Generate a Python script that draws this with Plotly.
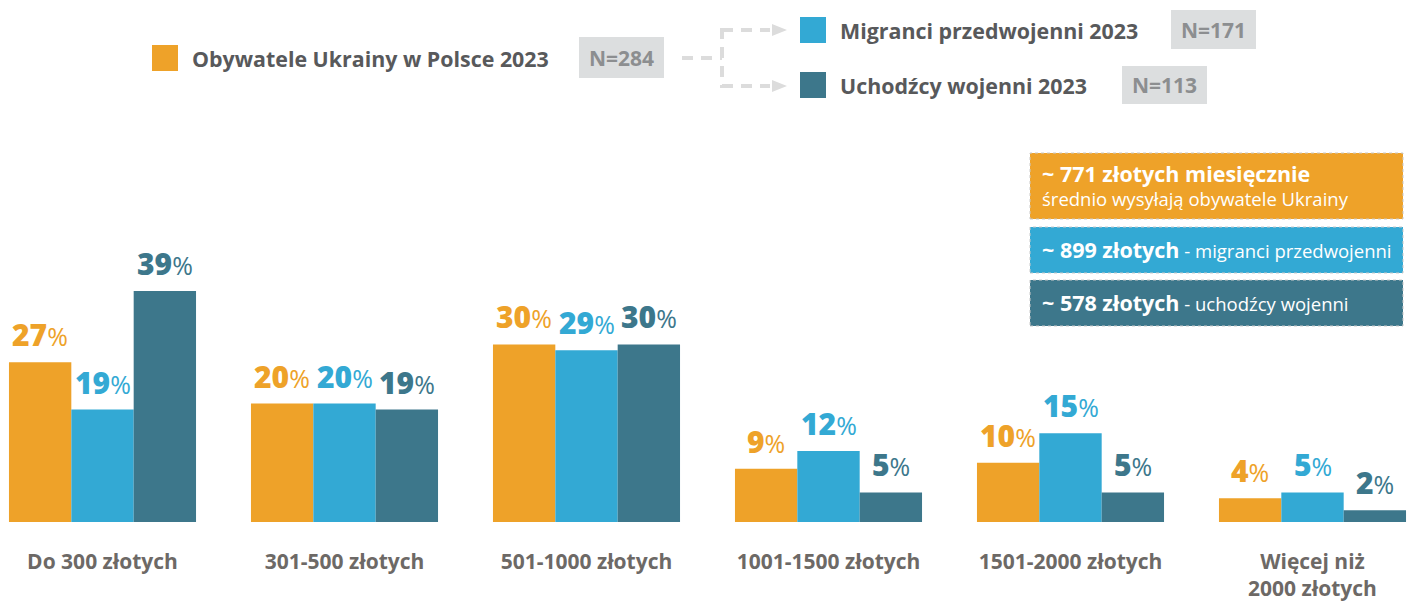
import plotly.graph_objects as go

# --- data -------------------------------------------------------------
categories = ["Do 300 złotych", "301-500 złotych", "501-1000 złotych",
              "1001-1500 złotych", "1501-2000 złotych", "Więcej niż<br>2000 złotych"]
series_names = ["Obywatele Ukrainy w Polsce 2023",
                "Migranci przedwojenni 2023",
                "Uchodźcy wojenni 2023"]
sample_sizes = ["N=284", "N=171", "N=113"]
obywatele = [27, 20, 30, 9, 10, 4]
migranci = [19, 20, 29, 12, 15, 5]
uchodzcy = [39, 19, 30, 5, 5, 2]
avg_amounts = ["~ 771 złotych", "~ 899 złotych", "~ 578 złotych"]

# --- style ------------------------------------------------------------
W, H = 1413, 601
BASE = 522                      # pixel row of the bar baseline
PX_PER_PCT = 5.92
COLORS = ["#EEA229", "#33A9D4", "#3D778B"]
TEXT_GRAY = "#58595B"
TICK_GRAY = "#6D6966"
NBOX_FILL = "#DCDEDF"
NBOX_TEXT = "#8C8E90"
DASH_GRAY = "#DCDCDC"
FONT = "Open Sans"
BARGAP = 0.227
STEP = 242                      # pixels per category

x_lo = -102.5 / STEP
x_hi = x_lo + W / STEP


def px(x):
    return x / W


def py(y):
    return 1 - y / BASE


fig = go.Figure()
values = [obywatele, migranci, uchodzcy]
for name, vals, col in zip(series_names, values, COLORS):
    fig.add_trace(go.Bar(
        x=list(range(len(categories))), y=vals, name=name,
        marker=dict(color=col, line=dict(width=0)),
        showlegend=False, hoverinfo="skip",
    ))

# value labels above each bar
bar_w = (1 - BARGAP) / 3
annotations = []
for j, (vals, col) in enumerate(zip(values, COLORS)):
    for i, v in enumerate(vals):
        annotations.append(dict(
            x=i + (j - 1) * bar_w, y=v, xref="x", yref="y",
            text=f"{v}<span style='font-size:25px;font-weight:400'>%</span>",
            showarrow=False, xanchor="center", yanchor="bottom", yshift=5,
            font=dict(family=FONT, size=30, color=col, weight=800),
        ))

shapes = []

# legend: colour squares, names and sample-size boxes
legend_rows = [
    (152, 58, 579, 664, 37, 78),
    (800, 30, 1171, 1256, 10, 49),
    (800, 85, 1122, 1207, 66, 104),
]
for (sx, cy, bx0, bx1, by0, by1), name, n, col in zip(legend_rows, series_names, sample_sizes, COLORS):
    shapes.append(dict(type="rect", xref="paper", yref="paper",
                       x0=px(sx), x1=px(sx + 26), y0=py(cy - 13), y1=py(cy + 13),
                       fillcolor=col, line=dict(width=0)))
    annotations.append(dict(x=px(sx + 38), y=py(cy), xref="paper", yref="paper",
                            text=f"<b>{name}</b>", showarrow=False,
                            xanchor="left", yanchor="middle",
                            font=dict(family=FONT, size=21.4, color=TEXT_GRAY)))
    shapes.append(dict(type="rect", xref="paper", yref="paper",
                       x0=px(bx0), x1=px(bx1), y0=py(by1), y1=py(by0),
                       fillcolor=NBOX_FILL, line=dict(width=0)))
    annotations.append(dict(x=px((bx0 + bx1) / 2), y=py((by0 + by1) / 2),
                            xref="paper", yref="paper",
                            text=f"<b>{n}</b>", showarrow=False,
                            xanchor="center", yanchor="middle",
                            font=dict(family=FONT, size=21, color=NBOX_TEXT)))

# dashed connector splitting the total sample into the two groups
dash_line = dict(color=DASH_GRAY, width=4, dash="11px,8px")
for (x0, y0, x1, y1) in [(682, 58, 722, 58), (722, 28, 722, 88),
                         (722, 30, 770, 30), (722, 86, 770, 86)]:
    shapes.append(dict(type="line", xref="paper", yref="paper",
                       x0=px(x0), y0=py(y0), x1=px(x1), y1=py(y1), line=dash_line))
for yy in (30, 86):
    shapes.append(dict(type="path", xref="paper", yref="paper",
                       path=f"M {px(772)} {py(yy - 6)} L {px(787)} {py(yy)} L {px(772)} {py(yy + 6)} Z",
                       fillcolor=DASH_GRAY, line=dict(width=0)))

# average amount boxes
info = [
    (153, 219, COLORS[0], None),
    (227, 273, COLORS[1], "migranci przedwojenni"),
    (280, 326, COLORS[2], "uchodźcy wojenni"),
]
for (y0, y1, col, rest), amount in zip(info, avg_amounts):
    shapes.append(dict(type="rect", xref="paper", yref="paper",
                       x0=px(1030), x1=px(1403), y0=py(y1), y1=py(y0),
                       fillcolor=col, line=dict(color="#C9C9C9", width=1, dash="dot")))
    if rest is None:
        text = (f"<b><span style='font-size:21.5px'>{amount} miesięcznie</span></b>"
                "<br>średnio wysyłają obywatele Ukrainy")
    else:
        text = f"<b><span style='font-size:21.5px'>{amount}</span></b> - {rest}"
    annotations.append(dict(x=px(1040), y=py((y0 + y1) / 2 - 1), xref="paper", yref="paper",
                            text=text, showarrow=False, align="left",
                            xanchor="left", yanchor="middle",
                            font=dict(family=FONT, size=18.5, color="white")))

fig.update_layout(
    width=W, height=H, autosize=False,
    margin=dict(l=0, r=0, t=0, b=H - BASE, pad=0),
    paper_bgcolor="white", plot_bgcolor="white",
    barmode="group", bargap=BARGAP, bargroupgap=0,
    showlegend=False,
    xaxis=dict(range=[x_lo, x_hi], tickmode="array",
               tickvals=list(range(len(categories))), ticktext=categories,
               showgrid=False, zeroline=False, showline=False, ticks="",
               ticklabelstandoff=25, automargin=False,
               tickfont=dict(family=FONT, size=21, color=TICK_GRAY, weight="bold")),
    yaxis=dict(range=[0, BASE / PX_PER_PCT], visible=False, showgrid=False,
               zeroline=False, automargin=False),
    shapes=shapes, annotations=annotations,
)

fig.write_html("out.html")
